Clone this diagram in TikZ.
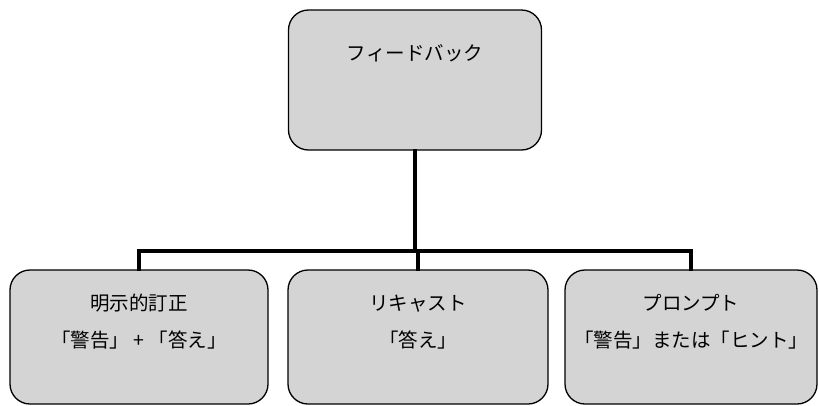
\documentclass[tikz,border=0pt]{standalone}
\usepackage{fontspec}
\newfontfamily\cjk{Noto Sans CJK JP}
\usepackage{tikz}
\usetikzlibrary{positioning}

\begin{document}
\begin{tikzpicture}[x=1bp,y=-1bp,
    fbbox/.style={draw=black,line width=1.3bp,fill=black!17,rounded corners=20bp},
    fbtext/.style={align=center,inner sep=0pt,font=\cjk\fontsize{19.5bp}{37bp}\selectfont},
    tree/.style={line width=3.6bp,line cap=rect}]
      % page
      \useasboundingbox (0,0) rectangle (819,405);

      % boxes
      \node[fbbox,minimum width=253bp,minimum height=140bp] (feedback) at (415,80) {};
      \node[fbbox,minimum width=258bp,minimum height=134bp] (explicit) at (139,337) {};
      \node[fbbox,minimum width=260bp,minimum height=134bp] (recast) at (418,337) {};
      \node[fbbox,minimum width=252bp,minimum height=134bp] (prompt) at (691,337) {};

      % texts
      \node[fbtext] (feedback text) at (415,53) {フィードバック};
      \node[fbtext] (explicit text) at (139,322) {明示的訂正\\「警告」 + 「答え」};
      \node[fbtext] (recast text) at (418,322) {リキャスト\\「答え」};
      \node[fbtext] (prompt text) at (691,322) {プロンプト\\「警告」または「ヒント」};

      % tree lines
      \coordinate (bar) at (415,251);
      \draw[tree] (feedback.south) -- (bar);
      \draw[tree] (bar) -| (explicit.north);
      \draw[tree] (bar) -| (prompt.north);
      \draw[tree] (recast.north |- bar) -- (recast.north);
\end{tikzpicture}
\end{document}
